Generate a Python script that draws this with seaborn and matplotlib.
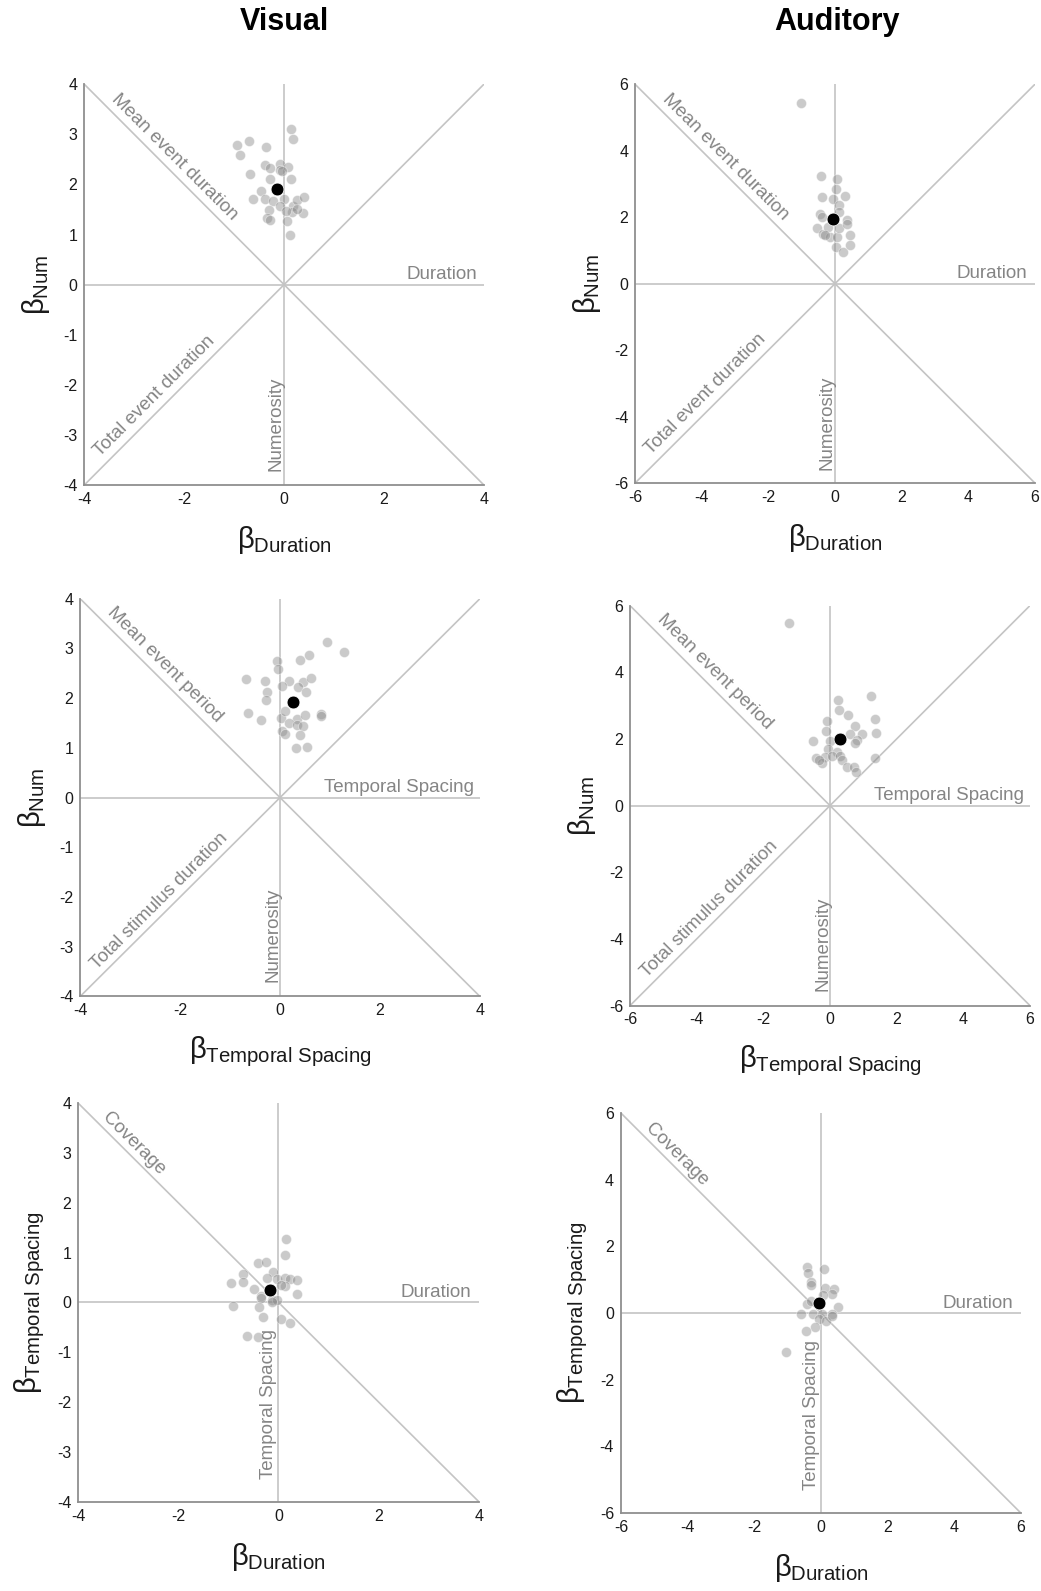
import pandas as pd
import matplotlib
matplotlib.use("Agg")
import matplotlib.pyplot as plt
import seaborn as sns

sns.set_style("white")
plt.rcParams['font.family'] = ['Liberation Sans', 'DejaVu Sans']
plt.rcParams['mathtext.fontset'] = 'custom'
plt.rcParams['mathtext.rm'] = 'Liberation Sans'
plt.rcParams['mathtext.it'] = 'Liberation Sans'
plt.rcParams['mathtext.bf'] = 'Liberation Sans:bold'
plt.rcParams['axes.unicode_minus'] = False

# ---------------- data ----------------
# Visual: beta Duration (x) vs beta Num (y)
vis_dn_x = [0.13, 0.17, -0.95, -0.70, -0.36, -0.88, -0.39, -0.29, -0.09, -0.08, 0.07, -0.69,
            0.14, -0.28, -0.46, -0.63, -0.38, -0.23, 0.00, -0.08, 0.17, 0.25, 0.39, 0.37,
            0.15, 0.04, -0.31, -0.35, -0.28, 0.05, 0.12, 0.25, -0.05]
vis_dn_y = [3.11, 2.91, 2.78, 2.86, 2.75, 2.59, 2.39, 2.33, 2.41, 2.29, 2.34, 2.21,
            2.11, 2.11, 1.86, 1.71, 1.71, 1.66, 1.71, 1.57, 1.57, 1.69, 1.74, 1.43,
            1.44, 1.46, 1.49, 1.33, 1.28, 1.26, 0.99, 1.51, 2.26]
vis_dn_mean = [-0.15, 1.91]

# Auditory: beta Duration (x) vs beta Num (y)
aud_dn_x = [-1.03, -0.42, 0.05, 0.02, -0.38, -0.05, 0.30, 0.12, -0.45, 0.12, 0.35, -0.40,
            -0.55, -0.35, -0.15, 0.05, 0.45, 0.13, -0.20, 0.03, 0.23, 0.45, 0.35, -0.30]
aud_dn_y = [5.44, 3.25, 3.14, 2.84, 2.60, 2.56, 2.64, 2.36, 2.11, 2.16, 1.91, 2.01,
            1.68, 1.49, 1.41, 1.41, 1.46, 1.68, 1.71, 1.11, 0.96, 1.16, 1.80, 1.45]
aud_dn_mean = [-0.05, 1.96]

# Visual: beta Temporal Spacing (x) vs beta Num (y)
vis_tn_x = [0.95, 1.28, 0.57, 0.40, -0.07, -0.05, -0.69, -0.31, 0.17, 0.03, 0.45, 0.62,
            0.35, 0.52, -0.27, -0.29, -0.65, -0.39, 0.02, 0.10, 0.33, 0.50, 0.81, 0.81,
            0.17, 0.33, 0.45, 0.03, 0.10, 0.40, 0.31, 0.53]
vis_tn_y = [3.12, 2.92, 2.87, 2.77, 2.75, 2.59, 2.38, 2.34, 2.35, 2.25, 2.33, 2.41,
            2.23, 2.12, 2.13, 1.96, 1.71, 1.57, 1.61, 1.74, 1.59, 1.67, 1.69, 1.64,
            1.49, 1.46, 1.43, 1.34, 1.27, 1.26, 0.99, 1.01]
vis_tn_mean = [0.25, 1.93]

# Auditory: beta Temporal Spacing (x) vs beta Num (y)
aud_tn_x = [-1.22, 1.22, 0.25, 0.27, 0.53, 1.35, -0.10, 0.75, -0.12, 0.60, 0.95, 1.38,
            -0.52, 0.00, 0.80, 0.75, -0.05, 0.20, -0.42, -0.15, 0.05, 0.30, -0.25, 0.35,
            0.52, 0.72, 0.78, 1.35, -0.34]
aud_tn_y = [5.49, 3.29, 3.17, 2.87, 2.72, 2.60, 2.54, 2.40, 2.24, 2.14, 2.14, 2.17,
            1.95, 1.95, 1.97, 1.87, 1.69, 1.62, 1.42, 1.47, 1.49, 1.49, 1.27, 1.37,
            1.17, 1.17, 1.02, 1.42, 1.37]
aud_tn_mean = [0.30, 1.99]

# Visual: beta Duration (x) vs beta Temporal Spacing (y)
vis_dt_x = [0.15, 0.13, -0.40, -0.25, -0.70, -0.10, -0.95, -0.70, -0.48, -0.22, -0.02, 0.14,
            0.24, 0.37, 0.13, 0.05, 0.37, -0.35, -0.35, -0.12, -0.02, -0.12, -0.90, -0.38,
            -0.30, 0.05, 0.24, -0.63, -0.40]
vis_dt_y = [1.27, 0.95, 0.79, 0.81, 0.56, 0.61, 0.39, 0.41, 0.27, 0.49, 0.46, 0.49,
            0.46, 0.44, 0.33, 0.35, 0.16, 0.13, 0.08, 0.05, 0.05, 0.01, -0.07, -0.09,
            -0.29, -0.33, -0.41, -0.67, -0.69]
vis_dt_mean = [-0.16, 0.25]

# Auditory: beta Duration (x) vs beta Temporal Spacing (y)
aud_dt_x = [-0.41, -0.39, 0.10, -0.29, -0.29, 0.14, 0.41, 0.35, 0.06, -0.41, -0.29, 0.53,
            0.35, -0.59, -0.24, 0.04, -0.04, 0.16, 0.35, -0.16, -0.44, -1.04]
aud_dt_y = [1.39, 1.21, 1.33, 0.93, 0.84, 0.74, 0.71, 0.56, 0.53, 0.26, 0.36, 0.18,
            -0.02, -0.04, -0.04, -0.02, -0.19, -0.24, -0.09, -0.42, -0.54, -1.17]
aud_dt_mean = [-0.05, 0.31]

LINE_C = '#c4c4c4'
TXT_C = '#858585'


def draw_panel(ax, xs, ys, mean, lim, step, xlab, ylab, labels, coverage=False):
    # reference lines
    ax.plot([-lim, lim], [0, 0], color=LINE_C, lw=1.2, zorder=1)
    ax.plot([0, 0], [-lim, lim], color=LINE_C, lw=1.2, zorder=1)
    ax.plot([-lim, lim], [lim, -lim], color=LINE_C, lw=1.2, zorder=1)
    if not coverage:
        ax.plot([-lim, lim], [-lim, lim], color=LINE_C, lw=1.2, zorder=1)

    df = pd.DataFrame({'x': xs, 'y': ys})
    sns.scatterplot(data=df, x='x', y='y', ax=ax, color='#8a8a8a', alpha=0.45,
                    s=52, edgecolor='white', linewidth=0.6, zorder=3)
    ax.scatter([mean[0]], [mean[1]], s=85, color='black', edgecolor='white',
               linewidth=0.5, zorder=4)

    ax.set_xlim(-lim, lim)
    ax.set_ylim(-lim, lim)
    ax.set_xticks(range(-lim, lim + 1, 2))
    ax.set_yticks(range(-lim, lim + 1, step))
    for side in ['top', 'right']:
        ax.spines[side].set_visible(False)
    for side in ['left', 'bottom']:
        ax.spines[side].set_color('#8f8f8f')
        ax.spines[side].set_linewidth(1.3)
    ax.tick_params(direction='in', length=4, width=1, color='#8f8f8f',
                   labelsize=11.5, labelcolor='#1a1a1a', pad=5)

    ax.set_xlabel(xlab, fontsize=21, color='#1a1a1a')
    ax.set_ylabel(ylab, fontsize=21, color='#1a1a1a')
    ax.xaxis.set_label_coords(0.5, -0.138)
    ax.xaxis.label.set_va('center')
    ax.yaxis.set_label_coords(-0.12, 0.5)
    ax.yaxis.label.set_va('center')

    for txt, (tx, ty), rot, ha, va in labels:
        ax.text(tx, ty, txt, transform=ax.transAxes, rotation=rot, ha=ha, va=va,
                fontsize=13.5, color=TXT_C)


fig = plt.figure(figsize=(10.41, 15.91), dpi=100)

lab_num = r'$\beta_{Num}$'
lab_dur = r'$\beta_{Duration}$'
lab_ts = r'$\beta_{Temporal\ Spacing}$'

dur_num_labels = [
    ('Mean event duration', (0.226, 0.818), -45, 'center', 'center'),
    ('Duration', (0.982, 0.503), 0, 'right', 'bottom'),
    ('Total event duration', (0.175, 0.223), 45, 'center', 'center'),
    ('Numerosity', (0.48, 0.152), 90, 'center', 'center'),
]
ts_num_labels = [
    ('Mean event period', (0.212, 0.834), -45, 'center', 'center'),
    ('Temporal Spacing', (0.985, 0.503), 0, 'right', 'bottom'),
    ('Total stimulus duration', (0.198, 0.240), 45, 'center', 'center'),
    ('Numerosity', (0.482, 0.155), 90, 'center', 'center'),
]
dur_ts_labels = [
    ('Coverage', (0.140, 0.897), -45, 'center', 'center'),
    ('Duration', (0.981, 0.503), 0, 'right', 'bottom'),
    ('Temporal Spacing', (0.476, 0.246), 90, 'center', 'center'),
]

ax1 = fig.add_axes([0.0809, 0.6951, 0.384, 0.2520])
draw_panel(ax1, vis_dn_x, vis_dn_y, vis_dn_mean, 4, 1, lab_dur, lab_num, dur_num_labels)
ax2 = fig.add_axes([0.6101, 0.6964, 0.384, 0.2506])
draw_panel(ax2, aud_dn_x, aud_dn_y, aud_dn_mean, 6, 2, lab_dur, lab_num, dur_num_labels)
ax3 = fig.add_axes([0.0770, 0.3737, 0.384, 0.2500])
draw_panel(ax3, vis_tn_x, vis_tn_y, vis_tn_mean, 4, 1, lab_ts, lab_num, ts_num_labels)
ax4 = fig.add_axes([0.6053, 0.3680, 0.384, 0.2513])
draw_panel(ax4, aud_tn_x, aud_tn_y, aud_tn_mean, 6, 2, lab_ts, lab_num, ts_num_labels)
ax5 = fig.add_axes([0.0750, 0.0561, 0.385, 0.2506])
draw_panel(ax5, vis_dt_x, vis_dt_y, vis_dt_mean, 4, 1, lab_dur, lab_ts, dur_ts_labels, coverage=True)
ax6 = fig.add_axes([0.5965, 0.0491, 0.384, 0.2513])
draw_panel(ax6, aud_dt_x, aud_dt_y, aud_dt_mean, 6, 2, lab_dur, lab_ts, dur_ts_labels, coverage=True)

fig.text(0.273, 0.986, 'Visual', ha='center', va='center', fontsize=22,
         fontweight='bold', color='black')
fig.text(0.804, 0.986, 'Auditory', ha='center', va='center', fontsize=22,
         fontweight='bold', color='black')

fig.savefig('out.png', dpi=100, facecolor='white')
